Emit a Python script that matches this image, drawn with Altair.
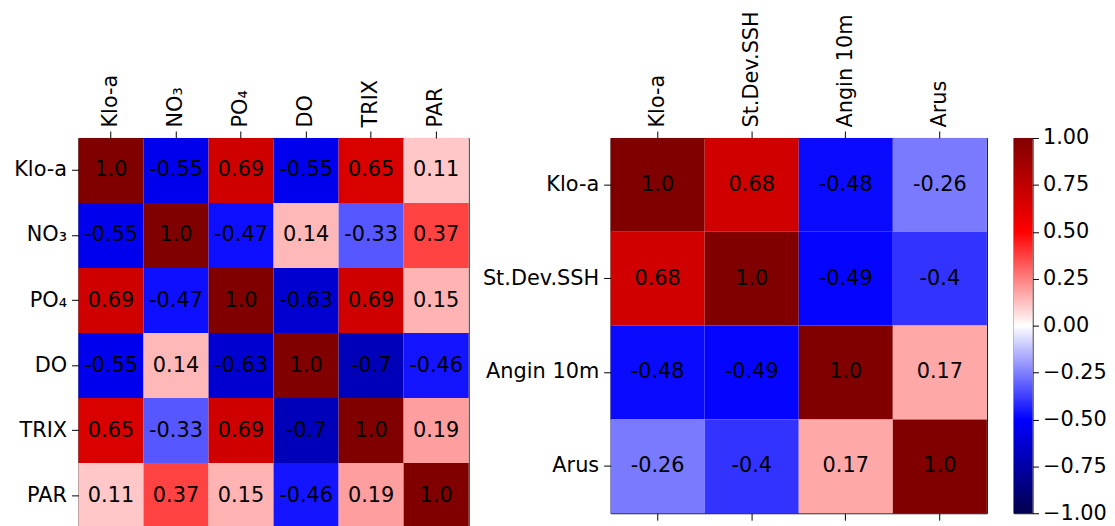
import altair as alt
import pandas as pd

# ---- data -------------------------------------------------------------
LEFT_VARS = ["Klo-a", "NO₃", "PO₄", "DO", "TRIX", "PAR"]
LEFT_CORR = [
    [1.0, -0.55, 0.69, -0.55, 0.65, 0.11],
    [-0.55, 1.0, -0.47, 0.14, -0.33, 0.37],
    [0.69, -0.47, 1.0, -0.63, 0.69, 0.15],
    [-0.55, 0.14, -0.63, 1.0, -0.7, -0.46],
    [0.65, -0.33, 0.69, -0.7, 1.0, 0.19],
    [0.11, 0.37, 0.15, -0.46, 0.19, 1.0],
]

RIGHT_VARS = ["Klo-a", "St.Dev.SSH", "Angin 10m", "Arus"]
RIGHT_CORR = [
    [1.0, 0.68, -0.48, -0.26],
    [0.68, 1.0, -0.49, -0.4],
    [-0.48, -0.49, 1.0, 0.17],
    [-0.26, -0.4, 0.17, 1.0],
]

CBAR_LIMITS = [-1.0, 1.0]
CBAR_TICKS = [-1.0, -0.75, -0.5, -0.25, 0.0, 0.25, 0.5, 0.75, 1.0]

# matplotlib "seismic" colormap anchors
SEISMIC_POS = [-1.0, -0.5, 0.0, 0.5, 1.0]
SEISMIC_COL = ["#00004d", "#0000ff", "#ffffff", "#ff0000", "#800000"]

FONT = "DejaVu Sans"
FS = 21

color_scale = alt.Scale(domain=SEISMIC_POS, range=SEISMIC_COL, interpolate="rgb")


def heatmap(vars_, corr, w, h):
    rows = []
    for i, r in enumerate(vars_):
        for j, c in enumerate(vars_):
            rows.append({"row": r, "col": c, "v": corr[i][j], "label": str(corr[i][j])})
    df = pd.DataFrame(rows)
    base = alt.Chart(df)
    y = alt.Y("row:N", sort=vars_, title=None, axis=alt.Axis(orient="left"))
    rect = base.mark_rect().encode(
        x=alt.X("col:N", sort=vars_, title=None,
                axis=alt.Axis(orient="top", labelAngle=-90, labelPadding=4)),
        y=y,
        color=alt.Color("v:Q", scale=color_scale, legend=None),
    )
    text = base.mark_text(font=FONT, fontSize=FS, color="black").encode(
        x=alt.X("col:N", sort=vars_, title=None,
                axis=alt.Axis(orient="bottom", labels=False)),
        y=y,
        text="label:N",
    )
    return alt.layer(rect, text).properties(width=w, height=h)


left = heatmap(LEFT_VARS, LEFT_CORR, 393, 393)
right = heatmap(RIGHT_VARS, RIGHT_CORR, 379, 378)

cbar_df = pd.DataFrame({"lo": [CBAR_LIMITS[0]], "hi": [CBAR_LIMITS[1]]})
gradient = alt.LinearGradient(
    gradient="linear",
    stops=[alt.GradientStop(color=c, offset=(p + 1) / 2) for p, c in zip(SEISMIC_POS, SEISMIC_COL)],
    x1=0, x2=0, y1=1, y2=0,
)
cbar = alt.Chart(cbar_df).mark_rect(fill=gradient).encode(
    y=alt.Y("lo:Q", title=None,
            scale=alt.Scale(domain=CBAR_LIMITS, nice=False, zero=False),
            axis=alt.Axis(orient="right", values=CBAR_TICKS, format=".2f",
                          tickSize=6, labelPadding=4)),
    y2="hi:Q",
).properties(width=19, height=378)

right_group = alt.hconcat(right, cbar, spacing=27, bounds="flush")

chart = (
    alt.hconcat(left, right_group, spacing=143, bounds="flush")
    .properties(padding={"left": 5, "top": 0, "right": 0, "bottom": 0})
    .configure_view(stroke="black", strokeWidth=1)
    .configure_axis(
        labelFont=FONT, labelFontSize=FS, labelColor="black",
        tickColor="black", tickSize=7, tickWidth=1, labelPadding=5,
        domain=False, grid=False,
    )
)

chart.save("out.html", embed_options={"renderer": "svg", "actions": False})
